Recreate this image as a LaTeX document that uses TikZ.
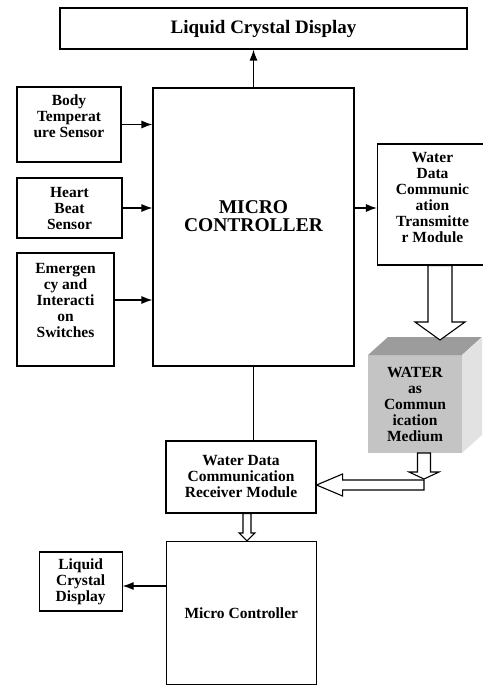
\documentclass[tikz,border=0pt]{standalone}
\usepackage{fontspec}
\setmainfont{Liberation Serif}
\usetikzlibrary{arrows.meta,calc}

\definecolor{cubefront}{HTML}{C4C4C4}
\definecolor{cubetop}{HTML}{9C9C9C}
\definecolor{cubeside}{HTML}{E2E2E2}

\begin{document}
\begin{tikzpicture}
            [
                x=1pt, y=-1pt,
                box/.style={draw=black, line width=1.1pt, align=center, inner sep=2pt,
                    font=\fontsize{15.5pt}{16pt}\selectfont\bfseries},
                hollow/.style={-, draw=black, line width=1.1pt, fill=white},
                ->, >={Latex[length=11pt,width=8pt]}, line width=1.2pt
            ]
            \useasboundingbox (0,0) rectangle (482,685);

            % transmitter side
            \node [box, minimum width=407pt, minimum height=41pt,
                font=\fontsize{19pt}{20pt}\selectfont\bfseries] (lcd) at (263.5,28.5) {Liquid Crystal Display};
            \node [box, minimum width=201pt, minimum height=278pt, text depth=22pt,
                font=\fontsize{19.5pt}{18pt}\selectfont\bfseries] (mc) at (253.5,227) {MICRO\\CONTROLLER};
            \node [box, minimum width=104pt, minimum height=75pt, text depth=17pt] (body) at (69,124.5) {
                Body\\Temperat\\ure Sensor};
            \node [box, minimum width=105pt, minimum height=60pt] (heart) at (69.5,208) {
                Heart\\Beat\\Sensor};
            \node [box, minimum width=97pt, minimum height=113pt, text depth=19pt] (switch) at (65.5,309.5) {
                Emergen\\cy and\\Interacti\\on\\Switches};
            \node [box, minimum width=110pt, minimum height=121pt, text depth=15pt] (tx) at (432.5,204.5) {
                Water\\Data\\Communic\\ation\\Transmitte\\r Module};

            % water cube
            \node [box, draw=none, fill=cubefront, outer sep=0pt, minimum width=94pt, minimum height=98pt]
                (water) at (415,404) {WATER\\as\\Commun\\ication\\Medium};
            \fill [cubetop] (water.north west) -- ++(20,-18) -- ($(water.north east)+(20,-18)$) -- (water.north east) -- cycle;
            \fill [cubeside] (water.north east) -- ++(20,-18) -- ($(water.south east)+(20,-18)$) -- (water.south east) -- cycle;

            % receiver side
            \node [box, minimum width=150pt, minimum height=72pt] (rx) at (241,477) {
                Water Data\\Communication\\Receiver Module};
            \node [box, minimum width=149.5pt, minimum height=143pt] (mc2) at (241.3,613) {Micro Controller};
            \node [box, minimum width=82.7pt, minimum height=59pt] (lcd2) at (80.7,581.5) {
                Liquid\\Crystal\\Display};

            % wires
            \coordinate (swout) at ([yshift=9.5pt]switch.east);
            \coordinate (lcdin) at ([yshift=-4.5pt]lcd2.east);
            \draw (mc.north) -- (mc.north |- lcd.south);
            \draw (body.east) -- (body.east -| mc.west);
            \draw (heart.east) -- (heart.east -| mc.west);
            \draw (swout) -- (swout -| mc.west);
            \draw (heart.east -| mc.east) -- (heart.east -| tx.west);
            \draw [-] (mc.south) -- (mc.south |- rx.north);
            \draw (lcdin -| mc2.west) -- (lcdin);

            % hollow arrows
            \coordinate (a1s) at ([xshift=7.5pt]tx.south);
            \coordinate (a1e) at ($(a1s |- water.north)+(0,-15)$);
            \draw [hollow] ($(a1s)+(-12,0)$) -- ($(a1e)+(-12,-18)$) -- ($(a1e)+(-25,-18)$) -- (a1e)
                -- ($(a1e)+(25,-18)$) -- ($(a1e)+(12,-18)$) -- ($(a1s)+(12,0)$) -- cycle;

            \coordinate (a2s) at ([xshift=9pt]water.south);
            \coordinate (a3e) at ([yshift=-8pt]rx.east);
            \coordinate (a3s) at (a2s |- a3e);
            \coordinate (a2e) at ($(a3s)+(0,-6)$);
            \draw [hollow] ($(a3s)+(0,-5)$) -- ($(a3e)+(26,-5)$) -- ($(a3e)+(26,-11)$) -- (a3e)
                -- ($(a3e)+(26,11)$) -- ($(a3e)+(26,5)$) -- ($(a3s)+(0,5)$) -- cycle;
            \draw [hollow] ($(a2s)+(-6.5,0)$) -- ($(a2e)+(-6.5,-7)$) -- ($(a2e)+(-15,-7)$) -- (a2e)
                -- ($(a2e)+(15,-7)$) -- ($(a2e)+(6.5,-7)$) -- ($(a2s)+(6.5,0)$) -- cycle;

            \coordinate (a4s) at ([xshift=6pt]rx.south);
            \coordinate (a4e) at (a4s |- mc2.north);
            \draw [hollow] ($(a4s)+(-4,0)$) -- ($(a4e)+(-4,-8)$) -- ($(a4e)+(-8,-8)$) -- (a4e)
                -- ($(a4e)+(8,-8)$) -- ($(a4e)+(4,-8)$) -- ($(a4s)+(4,0)$) -- cycle;
        \end{tikzpicture}
\end{document}
